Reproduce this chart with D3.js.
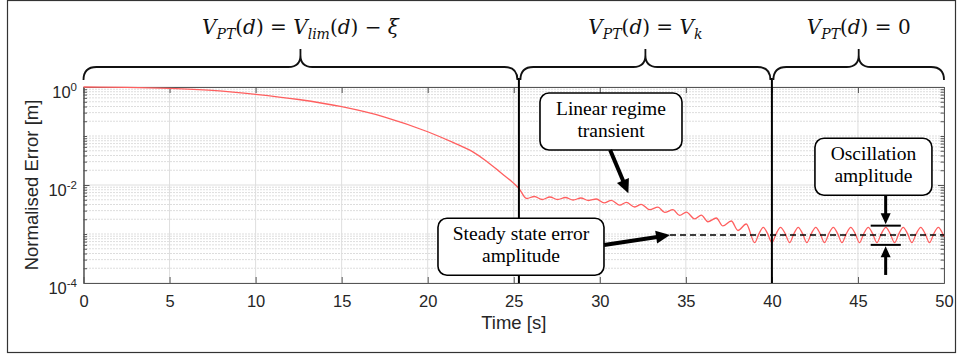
<!DOCTYPE html>
<html>
<head>
<meta charset="utf-8">
<script src="https://cdn.jsdelivr.net/npm/d3@7"></script>
<style>
  body { margin: 0; background: #fff; }
  svg { display: block; }
</style>
</head>
<body>
<div id="chart"></div>
<script>
// values (time in s, normalised error in m)
var decayT = [0, 2.5, 5, 7.5, 10, 12.5, 15, 17.5, 20, 21.5, 22.6, 23.4, 24.2, 25.0, 25.3, 25.75];
var decayE = [1.0, 0.986, 0.94, 0.85, 0.71, 0.556, 0.396, 0.244, 0.122, 0.073, 0.048, 0.031, 0.0184, 0.0108, 0.0085, 0.0053];

var transT = [26.2, 26.65, 27.1, 27.55, 28.0, 28.45, 28.9, 29.35, 29.8, 30.25, 30.67, 31.16, 31.54, 32.03, 32.41,
              32.9, 33.38, 33.77, 34.25, 34.64, 35.03, 35.51, 35.9, 36.28, 36.77, 37.15, 37.64, 38.03, 38.51];
var transE = [0.00582, 0.00506, 0.00569, 0.00506, 0.00556, 0.00494, 0.00543, 0.00483, 0.00518, 0.00431, 0.00487,
              0.00387, 0.00443, 0.00356, 0.00404, 0.00313, 0.00354, 0.00276, 0.00313, 0.00239, 0.00279, 0.00204,
              0.00243, 0.00178, 0.00212, 0.00146, 0.00184, 0.00118, 0.0016];

var steadyT = [39.0, 39.25, 39.5, 39.75, 40.0, 40.25, 40.5, 40.77, 41.03, 41.28, 41.53, 41.78, 42.03, 42.29, 42.55,
               42.8, 43.06, 43.31, 43.57, 43.82, 44.07, 44.33, 44.58, 44.84, 45.09, 45.34, 45.6, 45.85, 46.1, 46.36,
               46.62, 46.87, 47.13, 47.38, 47.63, 47.88, 48.13, 48.39, 48.65, 48.9, 49.16, 49.41, 49.67, 49.92, 50.0];
var steadyE = [0.000665, 0.00102, 0.00137, 0.00102, 0.000665, 0.00102, 0.00137, 0.00102, 0.000665, 0.00102, 0.00137,
               0.00102, 0.000665, 0.00102, 0.00137, 0.00102, 0.000665, 0.00102, 0.00137, 0.00102, 0.000665, 0.00102,
               0.00137, 0.00102, 0.000665, 0.00102, 0.00137, 0.00102, 0.000665, 0.00102, 0.00137, 0.00102, 0.000665,
               0.00102, 0.00137, 0.00102, 0.000665, 0.00102, 0.00137, 0.00102, 0.000665, 0.00102, 0.00137, 0.00102,
               0.00088];

var xTicks = [0, 5, 10, 15, 20, 25, 30, 35, 40, 45, 50];
var yTicks = [1e-4, 1e-2, 1];
var yTickExp = ["-4", "-2", "0"];

// regime boundaries (s) and their labels
var regimeEdges = [0, 25.3, 40, 50];
var regimeLabels = [
  [["V", "i"], ["PT", "s"], ["(", ""], ["d", "i"], [")", ""], [" = ", ""], ["V", "i"], ["lim", "s"], ["(", ""], ["d", "i"], [")", ""], [" − ", ""], ["ξ", "i"]],
  [["V", "i"], ["PT", "s"], ["(", ""], ["d", "i"], [")", ""], [" = ", ""], ["V", "i"], ["k", "s"]],
  [["V", "i"], ["PT", "s"], ["(", ""], ["d", "i"], [")", ""], [" = 0", ""]]
];

// annotations
var noteText = [["Linear regime", "transient"], ["Steady state error", "amplitude"], ["Oscillation", "amplitude"]];
var noteT = [30.65, 25.42, 45.9];
var noteE = [0.198, 0.00055, 0.0236];
var noteW = [142, 166, 117];

var steadyLevel = 0.00095;
var steadyLineFrom = 34.08;
var oscBand = [0.0006, 0.00148];
var oscT = [45.74, 46.61, 47.49];
var arrowT1 = [30.6, 31.66], arrowE1 = [0.0516, 0.00677];
var arrowT2 = [30.25, 34.08], arrowE2 = [0.000597, 0.00095];
var oscArrowTop = [0.00625, 0.00148];
var oscArrowBot = [0.000146, 0.0006];

var width = 960, height = 356;
var pL = 83.5, pR = 944, pT = 87, pB = 283;
var sans = "'Liberation Sans', Arial, sans-serif";
var serif = "'Liberation Serif', 'Times New Roman', serif";

var svg = d3.select("#chart").append("svg").attr("width", width).attr("height", height);

var x = d3.scaleLinear().domain([0, 50]).range([pL, pR]);
var y = d3.scaleLog().domain([1e-4, 1]).range([pB, pT]);

// outer frame
svg.append("rect").attr("x", 7.5).attr("y", 0.5).attr("width", 948).attr("height", 352)
  .attr("fill", "none").attr("stroke", "#333").attr("stroke-width", 1.2);

// minor y values
var yMinor = [];
for (var p = -4; p < 0; p++) {
  for (var k = 1; k <= 9; k++) {
    if (k == 1 && p % 2 == 0) continue;
    yMinor.push(k * Math.pow(10, p));
  }
}

var grid = svg.append("g");
grid.selectAll(".ymin").data(yMinor).enter().append("line")
  .attr("x1", pL).attr("x2", pR)
  .attr("y1", function(d) { return y(d); }).attr("y2", function(d) { return y(d); })
  .attr("stroke", "#bbb").attr("stroke-width", 1).attr("stroke-dasharray", "1,2");
grid.selectAll(".xmaj").data(xTicks).enter().append("line")
  .attr("x1", function(d) { return x(d); }).attr("x2", function(d) { return x(d); })
  .attr("y1", pT).attr("y2", pB)
  .attr("stroke", "#dedede").attr("stroke-width", 1);
grid.selectAll(".ymaj").data(yTicks).enter().append("line")
  .attr("x1", pL).attr("x2", pR)
  .attr("y1", function(d) { return y(d); }).attr("y2", function(d) { return y(d); })
  .attr("stroke", "#dedede").attr("stroke-width", 1);

// axes (ticks point inwards)
var axisColor = "#555";
function styleAxis(g) {
  g.select(".domain").attr("stroke", axisColor);
  g.selectAll(".tick line").attr("stroke", axisColor);
  g.selectAll("text").attr("font-family", sans).attr("font-size", 16.5).attr("fill", "#262626");
}
var xAxis = svg.append("g").attr("transform", "translate(0," + pB + ")")
  .call(d3.axisBottom(x).tickValues(xTicks).tickSizeInner(-6).tickSizeOuter(0).tickPadding(12).tickFormat(d3.format("d")));
styleAxis(xAxis);
var xTop = svg.append("g").attr("transform", "translate(0," + pT + ")")
  .call(d3.axisTop(x).tickValues(xTicks).tickSizeInner(-6).tickSizeOuter(0).tickFormat(""));
styleAxis(xTop);
var yAxis = svg.append("g").attr("transform", "translate(" + pL + ",0)")
  .call(d3.axisLeft(y).tickValues(yTicks).tickSizeInner(-6).tickSizeOuter(0).tickFormat(""));
styleAxis(yAxis);
var yAxisMin = svg.append("g").attr("transform", "translate(" + pL + ",0)")
  .call(d3.axisLeft(y).tickValues(yMinor).tickSizeInner(-3.5).tickSizeOuter(0).tickFormat(""));
styleAxis(yAxisMin);
var yRight = svg.append("g").attr("transform", "translate(" + pR + ",0)")
  .call(d3.axisRight(y).tickValues(yTicks).tickSizeInner(-6).tickSizeOuter(0).tickFormat(""));
styleAxis(yRight);
var yRightMin = svg.append("g").attr("transform", "translate(" + pR + ",0)")
  .call(d3.axisRight(y).tickValues(yMinor).tickSizeInner(-3.5).tickSizeOuter(0).tickFormat(""));
styleAxis(yRightMin);

// y tick labels 10^n
var yl = svg.append("g").attr("font-family", sans).attr("fill", "#262626");
yTicks.forEach(function(d, i) {
  var t = yl.append("text").attr("x", 77).attr("y", y(d) + 11).attr("text-anchor", "end").attr("font-size", 16.5);
  t.append("tspan").text("10");
  t.append("tspan").attr("dy", -7).attr("font-size", 11.5).text(yTickExp[i]);
});

// axis titles
svg.append("text").attr("x", (pL + pR) / 2).attr("y", 329).attr("text-anchor", "middle")
  .attr("font-family", sans).attr("font-size", 18.5).attr("fill", "#262626")
  .text("Time [s]");
svg.append("text").attr("transform", "translate(38," + ((pT + pB) / 2) + ") rotate(-90)")
  .attr("text-anchor", "middle")
  .attr("font-family", sans).attr("font-size", 18.5).attr("fill", "#262626")
  .text("Normalised Error [m]");

// error curve
var errT = decayT.concat(transT, steadyT);
var errE = decayE.concat(transE, steadyE);
var line = d3.line()
  .x(function(d, i) { return x(errT[i]); })
  .y(function(d) { return y(d); })
  .curve(d3.curveMonotoneX);
svg.append("path").datum(errE).attr("d", line)
  .attr("fill", "none").attr("stroke", "#ff5f5f").attr("stroke-width", 1.3);

// steady state level
svg.append("line").attr("x1", x(steadyLineFrom)).attr("x2", x(50))
  .attr("y1", y(steadyLevel)).attr("y2", y(steadyLevel))
  .attr("stroke", "#000").attr("stroke-width", 1.5).attr("stroke-dasharray", "6,4");

// regime separators
var braceY = pT - 20;
svg.selectAll(".sep").data(regimeEdges.slice(1, 3)).enter().append("line")
  .attr("x1", function(d) { return x(d); }).attr("x2", function(d) { return x(d); })
  .attr("y1", braceY + 11).attr("y2", pB)
  .attr("stroke", "#000").attr("stroke-width", 2);

// braces
function bracePath(xa, xb, yb) {
  var r = 13, rc = 12, tip = 6, xm = (xa + xb) / 2;
  return "M" + xa + "," + (yb + r) +
    "Q" + xa + "," + yb + " " + (xa + r) + "," + yb +
    "L" + (xm - rc) + "," + yb +
    "Q" + xm + "," + yb + " " + xm + "," + (yb - rc) +
    "L" + xm + "," + (yb - rc - tip) +
    "M" + xm + "," + (yb - rc) +
    "Q" + xm + "," + yb + " " + (xm + rc) + "," + yb +
    "L" + (xb - r) + "," + yb +
    "Q" + xb + "," + yb + " " + xb + "," + (yb + r);
}
for (var i = 0; i < 3; i++) {
  var xa = x(regimeEdges[i]) + (i > 0 ? 1.5 : 0);
  var xb = x(regimeEdges[i + 1]) - (i < 2 ? 1.5 : 0);
  svg.append("path").attr("d", bracePath(xa, xb, braceY))
    .attr("fill", "none").attr("stroke", "#111").attr("stroke-width", 1.8);

  var lab = svg.append("text").attr("x", (xa + xb) / 2).attr("y", 34).attr("text-anchor", "middle")
    .attr("font-family", "'DejaVu Serif', serif").attr("font-size", 20).attr("fill", "#111");
  var shifted = false;
  regimeLabels[i].forEach(function(part) {
    var ts = lab.append("tspan").text(part[0]).attr("xml:space", "preserve");
    if (part[1] == "i" || part[1] == "s") ts.attr("font-style", "italic");
    if (part[1] == "s") { ts.attr("font-size", 14).attr("dy", 5); shifted = true; }
    else if (shifted) { ts.attr("dy", -5); shifted = false; }
  });
}

// arrows
function arrow(x1, y1, x2, y2, w, hl, hw) {
  var dx = x2 - x1, dy = y2 - y1, L = Math.sqrt(dx * dx + dy * dy);
  var ux = dx / L, uy = dy / L;
  var bx = x2 - ux * hl, by = y2 - uy * hl;
  svg.append("line").attr("x1", x1).attr("y1", y1).attr("x2", bx + ux).attr("y2", by + uy)
    .attr("stroke", "#000").attr("stroke-width", w);
  svg.append("path")
    .attr("d", "M" + x2 + "," + y2 + "L" + (bx - uy * hw / 2) + "," + (by + ux * hw / 2) +
      "L" + (bx + uy * hw / 2) + "," + (by - ux * hw / 2) + "Z")
    .attr("fill", "#000");
}

// annotation boxes
var boxH = 57;
noteText.forEach(function(lines, i) {
  var cx = x(noteT[i]), cy = y(noteE[i]);
  svg.append("rect").attr("x", cx - noteW[i] / 2).attr("y", cy - boxH / 2)
    .attr("width", noteW[i]).attr("height", boxH).attr("rx", 9)
    .attr("fill", "#fff").attr("stroke", "#000").attr("stroke-width", 1.6);
  lines.forEach(function(s, j) {
    svg.append("text").attr("x", cx).attr("y", cy - boxH / 2 + 22 + j * 22)
      .attr("text-anchor", "middle").attr("font-family", serif)
      .attr("font-size", 19.5).attr("fill", "#000").text(s);
  });
});

arrow(x(arrowT1[0]), y(arrowE1[0]), x(arrowT1[1]), y(arrowE1[1]), 4, 14, 13);
arrow(x(arrowT2[0]), y(arrowE2[0]), x(arrowT2[1]), y(arrowE2[1]), 4, 14, 13);

// oscillation amplitude markers
oscBand.forEach(function(v) {
  svg.append("line").attr("x1", x(oscT[0])).attr("x2", x(oscT[2]))
    .attr("y1", y(v)).attr("y2", y(v)).attr("stroke", "#000").attr("stroke-width", 2);
});
arrow(x(oscT[1]), y(oscArrowTop[0]), x(oscT[1]), y(oscArrowTop[1]) - 1.5, 3, 11, 10);
arrow(x(oscT[1]), y(oscArrowBot[0]), x(oscT[1]), y(oscArrowBot[1]) + 1.5, 3, 11, 10);
</script>
</body>
</html>
